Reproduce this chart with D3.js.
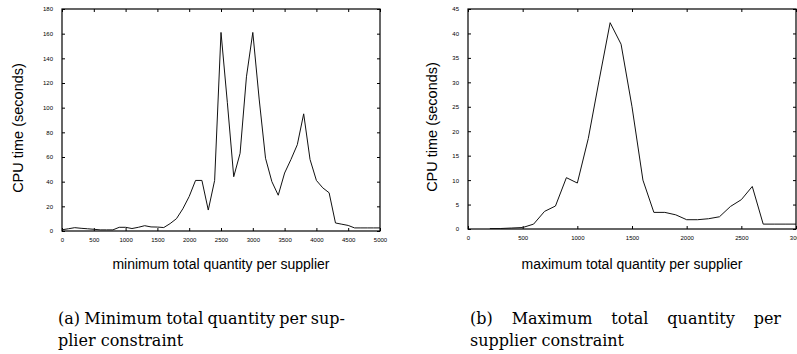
<!DOCTYPE html>
<html>
<head>
<meta charset="utf-8">
<script src="https://cdn.jsdelivr.net/npm/d3@7"></script>
<style>
  body { margin: 0; background: #fff; }
  svg { display: block; }
</style>
</head>
<body>
<div id="chart"></div>
<script>
// panel (a): minimum total quantity per supplier, step 100 from 0
const minQty = d3.range(0, 5001, 100);
const minCpu = [
  1, 1.8, 2.7, 2.2, 1.8, 1.4, 0.9, 0.9, 0.9, 3.0,
  3.0, 2.0, 3.0, 4.3, 3.3, 3.2, 2.8, 6, 10, 18,
  28, 41, 41, 17, 41, 161, 104, 44, 63, 125,
  161, 107, 59, 40, 29, 47, 58, 70, 95, 58,
  41, 35, 31, 6.5, 5.5, 4.5, 2.5, 2.5, 2.5, 2.5,
  2.5,
];
const minXTicks = d3.range(0, 5001, 500);
const minYTicks = d3.range(0, 181, 20);

// panel (b): maximum total quantity per supplier, step 100 from 200
const maxQty = d3.range(200, 3001, 100);
const maxCpu = [
  0.1, 0.1, 0.2, 0.3, 1.0, 3.6, 4.7, 10.5, 9.4, 18.5,
  30.5, 42.2, 37.8, 25, 10, 3.4, 3.4, 2.9, 1.9, 1.9,
  2.1, 2.5, 4.6, 6.0, 8.7, 1.0, 1.0, 1.0, 1.0,
];
const maxXTicks = d3.range(0, 3001, 500);
const maxYTicks = d3.range(0, 46, 5);

const xTitles = ["minimum total quantity per supplier", "maximum total quantity per supplier"];
const yTitle = "CPU time (seconds)";
const captions = [
  ["(a) Minimum total quantity per sup-", "plier constraint"],
  ["(b) Maximum total quantity per", "supplier constraint"],
];

const width = 797;
const height = 354;
const sans = "'Liberation Sans', Arial, sans-serif";
const serif = "'DejaVu Serif', 'Liberation Serif', serif";

const svg = d3
  .select("#chart")
  .append("svg")
  .attr("width", width)
  .attr("height", height);

const drawPanel = (opts) => {
  const { xs, ys, xDomain, yDomain, xTicks, yTicks, box, xTitle, yTitleX, caption } = opts;
  const xScale = d3.scaleLinear().domain(xDomain).range([box.left, box.right]);
  const yScale = d3.scaleLinear().domain(yDomain).range([box.bottom, box.top]);
  const g = svg.append("g");
  const tick = 3;
  const fmt = d3.format("d");

  // inward ticks on all four sides (gnuplot style)
  const axisB = g.append("g")
    .attr("transform", `translate(0, ${box.bottom})`)
    .call(d3.axisBottom(xScale).tickValues(xTicks).tickFormat(fmt).tickSizeInner(-tick).tickSizeOuter(0).tickPadding(7));
  const axisT = g.append("g")
    .attr("transform", `translate(0, ${box.top})`)
    .call(d3.axisTop(xScale).tickValues(xTicks).tickSizeInner(-tick).tickSizeOuter(0).tickFormat(""));
  const axisL = g.append("g")
    .attr("transform", `translate(${box.left}, 0)`)
    .call(d3.axisLeft(yScale).tickValues(yTicks).tickFormat(fmt).tickSizeInner(-tick).tickSizeOuter(0).tickPadding(9));
  const axisR = g.append("g")
    .attr("transform", `translate(${box.right}, 0)`)
    .call(d3.axisRight(yScale).tickValues(yTicks).tickSizeInner(-tick).tickSizeOuter(0).tickFormat(""));
  [axisB, axisT, axisL, axisR].forEach((a) => {
    a.select(".domain").remove();
    a.selectAll("line").attr("stroke", "#000");
    a.selectAll("text").attr("font-family", sans).attr("font-size", 6).attr("fill", "#000");
  });

  g.append("rect")
    .attr("x", box.left)
    .attr("y", box.top)
    .attr("width", box.right - box.left)
    .attr("height", box.bottom - box.top)
    .attr("fill", "none")
    .attr("stroke", "#000")
    .attr("stroke-width", 1.2);

  const line = d3.line()
    .x((d, i) => xScale(xs[i]))
    .y((d) => yScale(d));
  g.append("path")
    .attr("fill", "none")
    .attr("stroke", "#111")
    .attr("stroke-width", 1)
    .attr("stroke-linejoin", "round")
    .attr("d", line(ys));

  // axis titles
  g.append("text")
    .attr("x", (box.left + box.right) / 2)
    .attr("y", 269)
    .attr("text-anchor", "middle")
    .attr("font-family", sans)
    .attr("font-size", 14)
    .text(xTitle);
  g.append("text")
    .attr("transform", `translate(${yTitleX}, ${(box.top + box.bottom) / 2 + 8}) rotate(-90)`)
    .attr("text-anchor", "middle")
    .attr("font-family", sans)
    .attr("font-size", 14.5)
    .text(yTitle);

  // caption, first line justified to the given width
  const words = caption.lines[0].split(" ");
  const wordNodes = words.map((w) =>
    g.append("text")
      .attr("y", 324)
      .attr("font-family", serif)
      .attr("font-size", 16)
      .text(w)
  );
  const widths = wordNodes.map((n) => n.node().getComputedTextLength());
  const gap = (caption.lineWidth - d3.sum(widths)) / (words.length - 1);
  let x = caption.x;
  wordNodes.forEach((n, i) => {
    n.attr("x", x);
    x += widths[i] + gap;
  });
  g.append("text")
    .attr("x", caption.x)
    .attr("y", 346)
    .attr("font-family", serif)
    .attr("font-size", 16)
    .text(caption.lines[1]);
};

drawPanel({
  xs: minQty,
  ys: minCpu,
  xDomain: [0, 5000],
  yDomain: [0, 180],
  xTicks: minXTicks,
  yTicks: minYTicks,
  box: { left: 62, right: 380, top: 9, bottom: 231 },
  xTitle: xTitles[0],
  yTitleX: 23,
  caption: { lines: captions[0], x: 58, lineWidth: 287 },
});

drawPanel({
  xs: maxQty,
  ys: maxCpu,
  xDomain: [0, 3000],
  yDomain: [0, 45],
  xTicks: maxXTicks,
  yTicks: maxYTicks,
  box: { left: 468, right: 796, top: 9, bottom: 229 },
  xTitle: xTitles[1],
  yTitleX: 437,
  caption: { lines: captions[1], x: 470, lineWidth: 311 },
});
</script>
</body>
</html>
